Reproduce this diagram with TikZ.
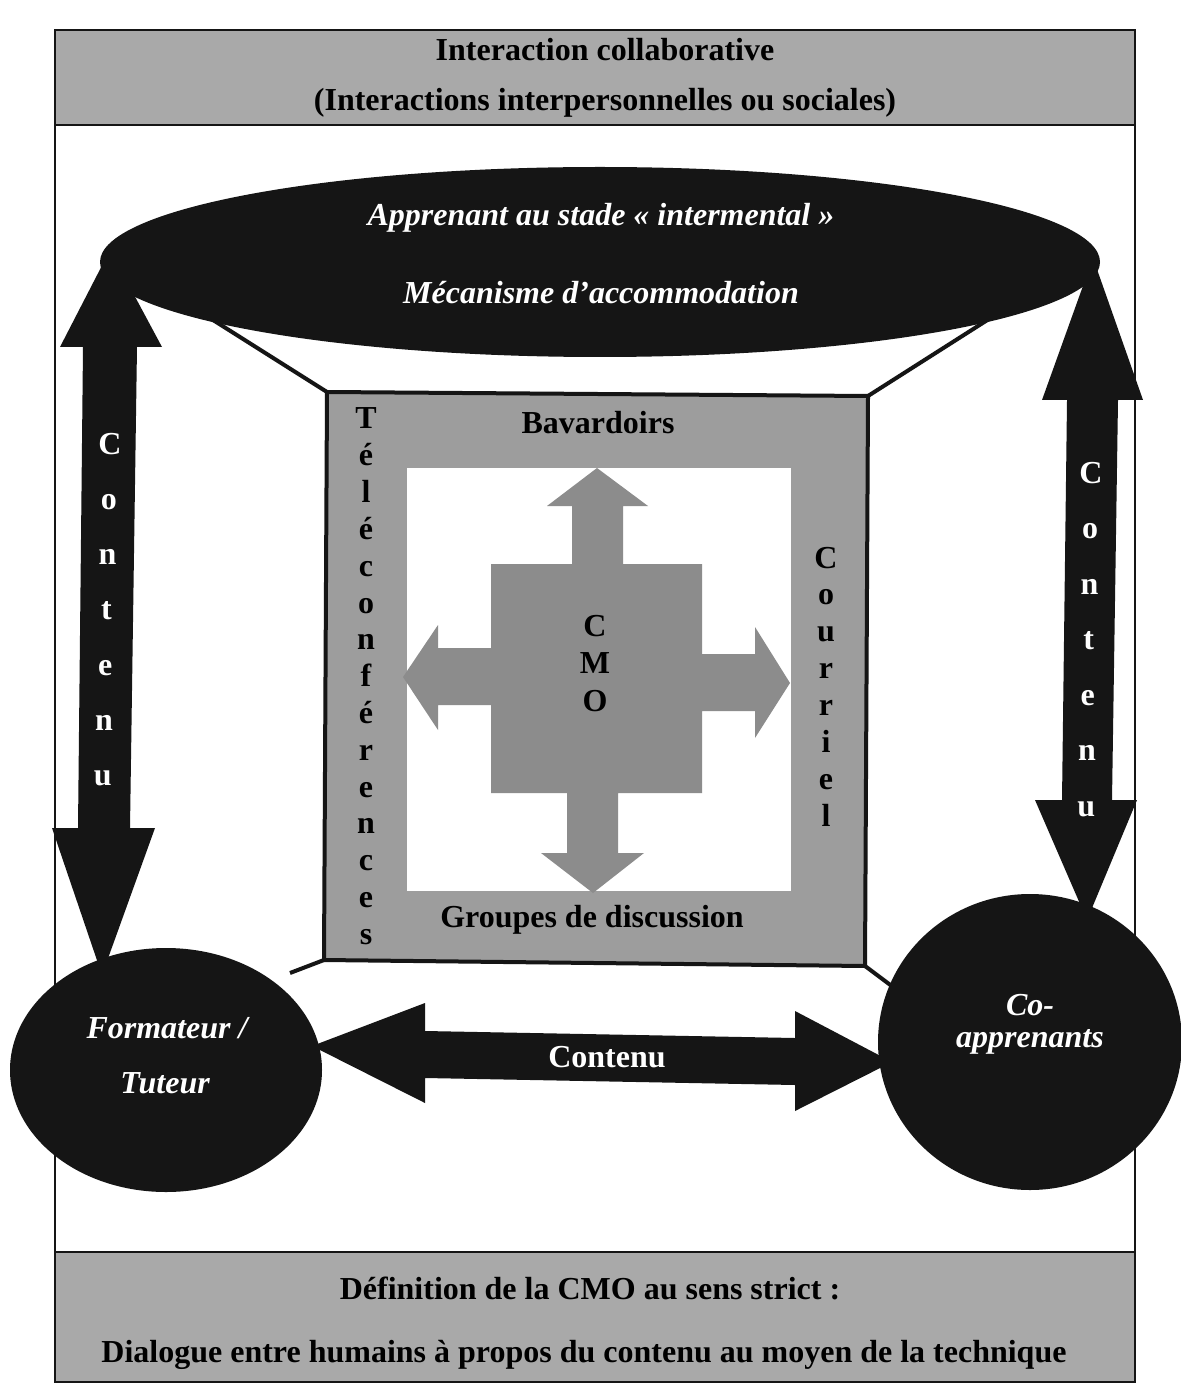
\documentclass[tikz,border=0pt]{standalone}
\usepackage{fontspec}
\setmainfont{Liberation Serif}
\usetikzlibrary{shapes.geometric}
\definecolor{bandgray}{HTML}{A9A9A9}
\definecolor{boxgray}{HTML}{9D9D9D}
\definecolor{crossgray}{HTML}{8C8C8C}
\definecolor{ink}{HTML}{151515}
\begin{document}
\begin{tikzpicture}[x=0.5pt,y=-0.5pt,
  txt/.style={font=\fontsize{16}{19}\selectfont\bfseries, inner sep=0pt},
  wtxt/.style={font=\fontsize{16}{19}\selectfont\bfseries\itshape, text=white, inner sep=0pt},
  letter/.style={font=\fontsize{16}{19}\selectfont\bfseries, inner sep=0pt, text height=11pt, text depth=0pt, anchor=center},
  wletter/.style={letter, text=white},
  blackshape/.style={fill=ink, draw=none},
  thinline/.style={draw=ink, line width=0.6pt},
  edge/.style={draw=ink, line width=2pt}
]
\useasboundingbox (0,0) rectangle (1181,1395);
\fill[white] (0,0) rectangle (1181,1395);

% outer frame and bands
\draw[thinline] (55,30) rectangle (1135,1382);
\fill[bandgray] (55,30) rectangle (1135,125);
\draw[thinline] (55,30) rectangle (1135,125);
\fill[bandgray] (55,1252) rectangle (1135,1382);
\draw[thinline] (55,1252) rectangle (1135,1382);
\node[txt] (band1a) at (605,50) {Interaction collaborative};
\node[txt] (band1b) at (605,103) {(Interactions interpersonnelles ou sociales)};
\node[txt] (band2a) at (590,1288) {Définition de la CMO au sens strict :};
\node[txt] (band2b) at (584,1355) {Dialogue entre humains à propos du contenu au moyen de la technique};

% central box
\coordinate (sqTL) at (327,392);
\coordinate (sqTR) at (868,396);
\coordinate (sqBR) at (865,966);
\coordinate (sqBL) at (324,960);
\coordinate (elL) at (175,296);
\coordinate (elR) at (1000,312);
\coordinate (ciL) at (290,973);
\coordinate (ciR) at (893,987);
\draw[edge] (elL) -- (sqTL);
\draw[edge] (elR) -- (sqTR);
\draw[edge] (sqBL) -- (ciL);
\draw[edge] (sqBR) -- (ciR);
\filldraw[fill=boxgray, edge] (sqTL) -- (sqTR) -- (sqBR) -- (sqBL) -- cycle;
\fill[white] (407,468) rectangle (791,891);
\fill[crossgray] (597,468) -- (648,506) -- (623,506) -- (623,564) -- (702,564) -- (702,654)
  -- (755,654) -- (755,627) -- (790,683) -- (755,738) -- (755,711) -- (702,711)
  -- (702,793) -- (618,793) -- (618,853) -- (644,853) -- (593,893) -- (541,853)
  -- (567,853) -- (567,793) -- (491,793) -- (491,705) -- (438,705) -- (438,730)
  -- (403,677) -- (438,625) -- (438,648) -- (491,648) -- (491,564) -- (572,564)
  -- (572,506) -- (547,506) -- cycle;

\node[txt] (bav) at (598,423) {Bavardoirs};
\node[txt] (grp) at (592,920) {Groupes de discussion};
\foreach \l [count=\i from 0] in {C,M,O}
  \node[letter] (cmo\i) at (595,625+37.5*\i) {\l};
\foreach \l [count=\i from 0] in {T,é,l,é,c,o,n,f,é,r,e,n,c,e,s}
  \node[letter] (tel\i) at (366,418+36.8*\i) {\l};
\foreach \l [count=\i from 0] in {C,o,u,r,r,i,e,l}
  \node[letter] (cou\i) at (826,557+36.9*\i) {\l};

% vertical double arrows
\fill[ink] (110,250) -- (162,347) -- (137,347) -- (130,828) -- (155,828) -- (102,975)
  -- (52,828) -- (78,828) -- (83,347) -- (60,347) -- cycle;
\fill[ink] (1093,258) -- (1143,400) -- (1118,400) -- (1112,800) -- (1137,800) -- (1087,920)
  -- (1035,800) -- (1062,800) -- (1067,400) -- (1042,400) -- cycle;
\foreach \l [count=\i from 0] in {C,o,n,t,e,n,u}
  \node[wletter] (cl\i) at (110-1.2*\i,443+55.3*\i) {\l};
\foreach \l [count=\i from 0] in {C,o,n,t,e,n,u}
  \node[wletter] (cr\i) at (1091-0.8*\i,472+55.5*\i) {\l};

% top ellipse
\node[ellipse, blackshape, minimum width=500pt, minimum height=95pt] (ell) at (600,262) {};
\node[wtxt] (ell1) at (601,218) {Apprenant au stade « intermental »};
\node[wtxt] (ell2) at (601,293) {Mécanisme d’accommodation};

% horizontal double arrow
\fill[ink] (312,1046) -- (425,1003) -- (425,1031) -- (795,1038) -- (795,1011) -- (892,1062)
  -- (795,1111) -- (795,1085) -- (425,1078) -- (425,1103) -- cycle;
\node[txt, text=white] (hcont) at (607,1057) {Contenu};

% circles
\node[ellipse, blackshape, minimum width=156pt, minimum height=122pt] (form) at (166,1070) {};
\node[wtxt] (form1) at (167,1028) {Formateur /};
\node[wtxt] (form2) at (165,1083) {Tuteur};
\node[ellipse, blackshape, minimum width=152pt, minimum height=148pt] (coap) at (1030,1042) {};
\node[wtxt] (coap1) at (1030,1005) {Co-};
\node[wtxt] (coap2) at (1030,1042) {apprenants};
\end{tikzpicture}
\end{document}
